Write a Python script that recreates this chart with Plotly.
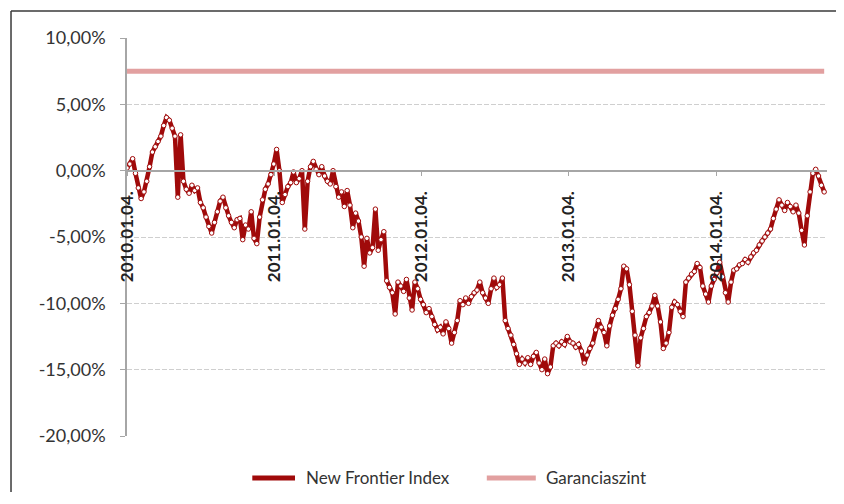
import pandas as pd
import plotly.graph_objects as go

# Weekly readings of the New Frontier Index (%), starting 2010-01-04
index_values = [
    0.2, 0.5, 0.9, -0.2, -1.3, -2.1, -1.6, -0.8, 0.3, 1.4,
    1.8, 2.2, 2.6, 3.4, 4.0, 3.8, 3.2, 2.6, -2.0, 2.7,
    -0.8, -1.4, -1.7, -1.1, -1.5, -1.3, -2.4, -2.8, -3.5, -4.2,
    -4.7, -3.9, -3.1, -2.3, -2.0, -2.8, -3.4, -3.9, -4.3, -3.7,
    -3.6, -5.2, -4.1, -4.4, -3.1, -5.1, -5.5, -3.5, -2.2, -1.4,
    -1.0, -0.3, 0.5, 1.6, 0.0, -2.4, -1.8, -1.2, -0.9, -0.1,
    -0.9, -0.6, 0.0, -4.4, -0.8, 0.3, 0.7, 0.1, -0.3, 0.3,
    -0.4, -0.8, -1.0, 0.0, -1.2, -2.0, -1.6, -2.7, -1.5, -2.6,
    -4.3, -3.2, -3.8, -5.0, -7.2, -5.1, -6.2, -5.8, -2.9, -6.0,
    -5.2, -4.6, -8.3, -8.8, -9.2, -10.8, -8.4, -8.7, -9.1, -8.2,
    -9.6, -10.5, -8.4, -8.9, -9.7, -10.1, -10.7, -10.4, -11.0, -11.6,
    -12.0, -11.8, -12.3, -11.4, -11.9, -13.0, -12.2, -11.3, -9.8, -10.1,
    -9.6, -10.0, -9.5, -9.2, -9.0, -8.4, -9.2, -9.6, -10.0, -8.9,
    -8.1, -8.8, -8.6, -8.1, -11.3, -11.9, -12.4, -13.1, -13.8, -14.6,
    -14.2, -14.5, -14.1, -14.6, -14.0, -13.7, -14.5, -15.0, -14.2, -15.3,
    -14.8, -13.2, -13.0, -13.2, -12.9, -13.1, -12.5, -12.9, -13.0, -13.3,
    -13.1, -13.6, -14.5, -13.9, -13.4, -13.0, -12.0, -11.3, -11.8, -12.2,
    -13.2, -11.7, -10.9, -10.4, -9.7, -8.9, -7.2, -7.4, -8.6, -10.6,
    -12.4, -14.7, -12.6, -11.9, -11.0, -10.7, -10.2, -9.4, -10.2, -11.4,
    -13.4, -13.0, -12.2, -10.3, -9.9, -10.1, -10.6, -11.0, -8.4, -8.1,
    -7.8, -7.6, -7.0, -7.3, -8.7, -9.3, -9.9, -8.7, -8.2, -7.7,
    -6.9, -8.0, -9.2, -9.9, -8.4, -7.5, -7.4, -7.1, -7.0, -6.7,
    -6.9, -6.5, -6.2, -6.0, -5.6, -5.3, -5.0, -4.7, -4.4, -3.6,
    -2.9, -2.2, -2.6, -3.0, -2.4, -2.7, -3.1, -2.6, -3.2, -4.5,
    -5.6, -3.4, -1.6, -0.2, 0.1, -0.4, -1.1, -1.6,
]
dates = pd.date_range("2010-01-04", periods=len(index_values), freq="7D")

guarantee_level = 7.5
guarantee_values = [guarantee_level] * len(dates)

x_tick_dates = ["2010-01-04", "2011-01-04", "2012-01-04", "2013-01-04", "2014-01-04"]
x_tick_labels = ["2010.01.04.", "2011.01.04.", "2012.01.04.", "2013.01.04.", "2014.01.04."]
y_tick_values = [-20, -15, -10, -5, 0, 5, 10]
y_tick_labels = ["-20,00%", "-15,00%", "-10,00%", "-5,00%", "0,00%", "5,00%", "10,00%"]

series_names = ["New Frontier Index", "Garanciaszint"]
dark_red = "#A00A0A"
pink = "#E2A0A0"

fig = go.Figure()
fig.add_trace(go.Scatter(
    x=dates, y=guarantee_values, mode="lines", showlegend=False, name=series_names[1],
    line=dict(color=pink, width=5)))
fig.add_trace(go.Scatter(
    x=dates, y=index_values, mode="lines+markers", showlegend=False, name=series_names[0],
    line=dict(color=dark_red, width=4.5),
    marker=dict(symbol="circle", size=4.5, color="white",
                line=dict(color=dark_red, width=1))))

# Legend drawn as shapes + text (paper coordinates below the plot area)
legend_y = -0.1055
legend_items = [
    (series_names[0], dark_red, 0.179, 0.240, 0.2529),
    (series_names[1], pink, 0.514, 0.584, 0.5957),
]
shapes = [
    # outer frame: top and left edges, kept inside the figure
    dict(type="line", xref="paper", yref="paper", x0=-0.1657, x1=1.0129, y0=1.0678, y1=1.0678,
         line=dict(color="#3a3a3a", width=1.5)),
    dict(type="line", xref="paper", yref="paper", x0=-0.1657, x1=-0.1657, y0=-0.1407, y1=1.0678,
         line=dict(color="#3a3a3a", width=1.5)),
]
annotations = []
for name, color, sx0, sx1, tx in legend_items:
    shapes.append(dict(type="line", xref="paper", yref="paper", x0=sx0, x1=sx1,
                       y0=legend_y, y1=legend_y,
                       line=dict(color=color, width=5)))
    annotations.append(dict(xref="paper", yref="paper", x=tx, y=legend_y, text=name,
                            showarrow=False, xanchor="left", yanchor="middle",
                            font=dict(size=17, color="#333333")))

fig.update_layout(
    width=828, height=484,
    margin=dict(l=119, r=9, t=30, b=56),
    paper_bgcolor="white", plot_bgcolor="white",
    font=dict(family="Lato, Open Sans, sans-serif", color="#333333"),
    showlegend=False,
    shapes=shapes, annotations=annotations,
)
fig.update_xaxes(
    type="date", range=["2010-01-04", "2014-10-06"],
    anchor="free", position=20 / 30,
    showline=True, linecolor="#A6A6A6", linewidth=1.5,
    showgrid=False, zeroline=False,
    tickmode="array", tickvals=x_tick_dates, ticktext=x_tick_labels,
    tickangle=-90, ticks="outside", ticklen=5, tickcolor="#A6A6A6",
    ticklabelstandoff=8,
    tickfont=dict(size=17, color="#222222", weight="bold"),
)
fig.update_yaxes(
    range=[-20, 10], tickmode="array", tickvals=y_tick_values, ticktext=y_tick_labels,
    showline=True, linecolor="#A6A6A6", linewidth=1.5,
    ticks="outside", ticklen=5, tickcolor="#A6A6A6",
    showgrid=True, gridcolor="#CFCFCF", griddash="5px,2px", gridwidth=1,
    zeroline=False, ticklabelstandoff=11,
    tickfont=dict(size=18, color="#333333"),
)

fig.write_html("out.html")
